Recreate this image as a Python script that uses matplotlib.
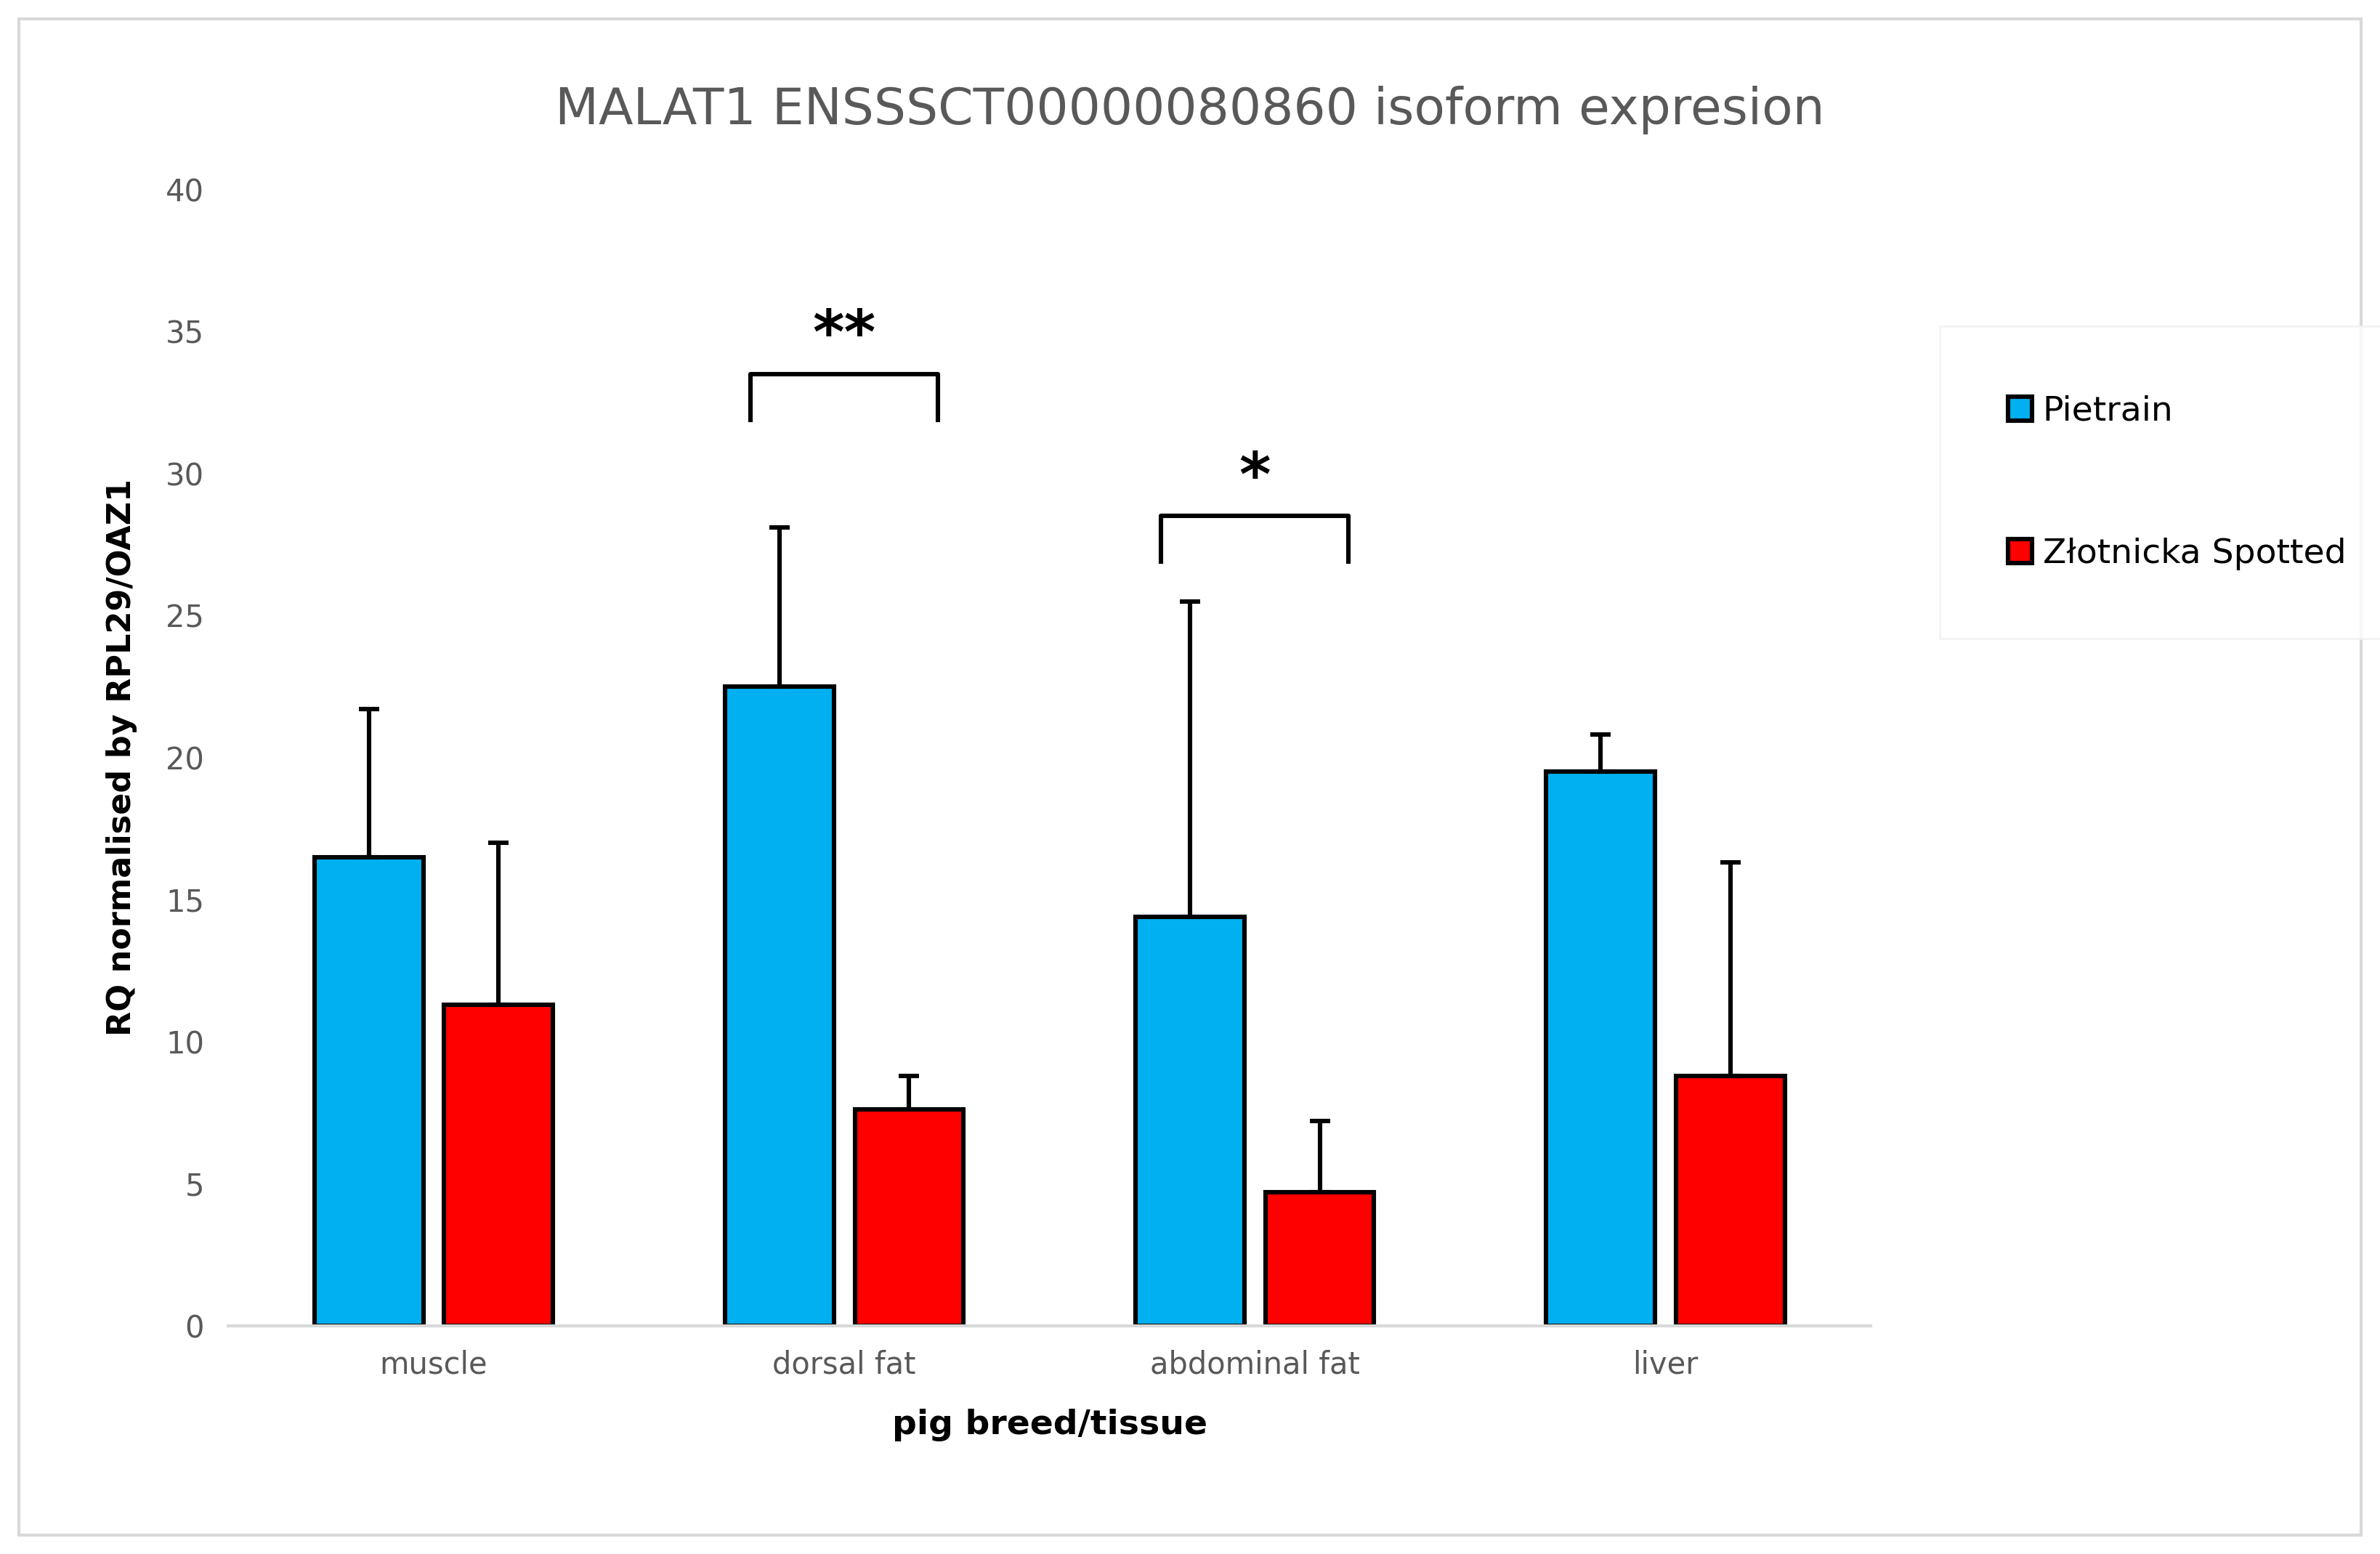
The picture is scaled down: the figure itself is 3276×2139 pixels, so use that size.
import matplotlib
matplotlib.use('Agg')
import matplotlib.pyplot as plt
import numpy as np
from matplotlib.patches import Rectangle

tissues = ['muscle', 'dorsal fat', 'abdominal fat', 'liver']
pietrain = [16.5, 22.5, 14.4, 19.5]
pietrain_err = [5.2, 5.6, 11.1, 1.3]
zlotnicka = [11.3, 7.6, 4.7, 8.8]
zlotnicka_err = [5.7, 1.2, 2.5, 7.5]
# (group index, bracket height, label)
signif = [(1, 33.5, '**'), (2, 28.5, '*')]

fig = plt.figure(figsize=(16.38, 10.695), dpi=200)
fig.patches.append(Rectangle((0.008, 0.012), 0.984, 0.976, transform=fig.transFigure,
                             fill=False, edgecolor='#d9d9d9', linewidth=1.5))
ax = fig.add_axes([0.096, 0.147, 0.69, 0.731])

x = np.arange(len(tissues))
w = 0.265
off = 0.158
ekw = dict(elinewidth=2.2, capthick=2.2, capsize=5, ecolor='black')
ax.bar(x - off, pietrain, w, color='#00b0f0', edgecolor='black', linewidth=2.2,
       yerr=[np.zeros(4), pietrain_err], error_kw=ekw, label='Pietrain', zorder=2)
ax.bar(x + off, zlotnicka, w, color='#ff0000', edgecolor='black', linewidth=2.2,
       yerr=[np.zeros(4), zlotnicka_err], error_kw=ekw, label='Złotnicka Spotted', zorder=2)

for i, h, lab in signif:
    x0, x1 = i - off - 0.07, i + off + 0.07
    ax.plot([x0, x0, x1, x1], [h - 1.6, h, h, h - 1.6], color='black', lw=2.2)
    ax.text(i, h + 0.3, lab, ha='center', va='bottom', fontsize=30, fontweight='bold')

ax.set_ylim(0, 40)
ax.set_xlim(-0.5, 3.5)
ax.set_yticks(range(0, 41, 5))
ax.set_xticks(x)
ax.set_xticklabels(tissues)
ax.tick_params(length=0, labelsize=15, colors='#595959', pad=12)
for s in ['top', 'right', 'left']:
    ax.spines[s].set_visible(False)
ax.spines['bottom'].set_color('#d9d9d9')
ax.spines['bottom'].set_linewidth(1.5)
ax.set_xlabel('pig breed/tissue', fontsize=17, fontweight='bold', labelpad=14)
ax.set_ylabel('RQ normalised by RPL29/OAZ1', fontsize=16, fontweight='bold', labelpad=14)
fig.text(0.5, 0.92, 'MALAT1 ENSSSCT00000080860 isoform expresion', ha='center',
         fontsize=25, color='#595959')

leg = fig.legend(loc='upper left', bbox_to_anchor=(0.815, 0.79), fontsize=17,
                 frameon=True, handlelength=0.7, handleheight=0.7, labelspacing=3.2,
                 borderpad=2.0, handletextpad=0.3, borderaxespad=0)
leg.get_frame().set_edgecolor('#f0f0f0')
leg.get_frame().set_boxstyle('square', pad=0)

fig.savefig('out.png', dpi=200)
